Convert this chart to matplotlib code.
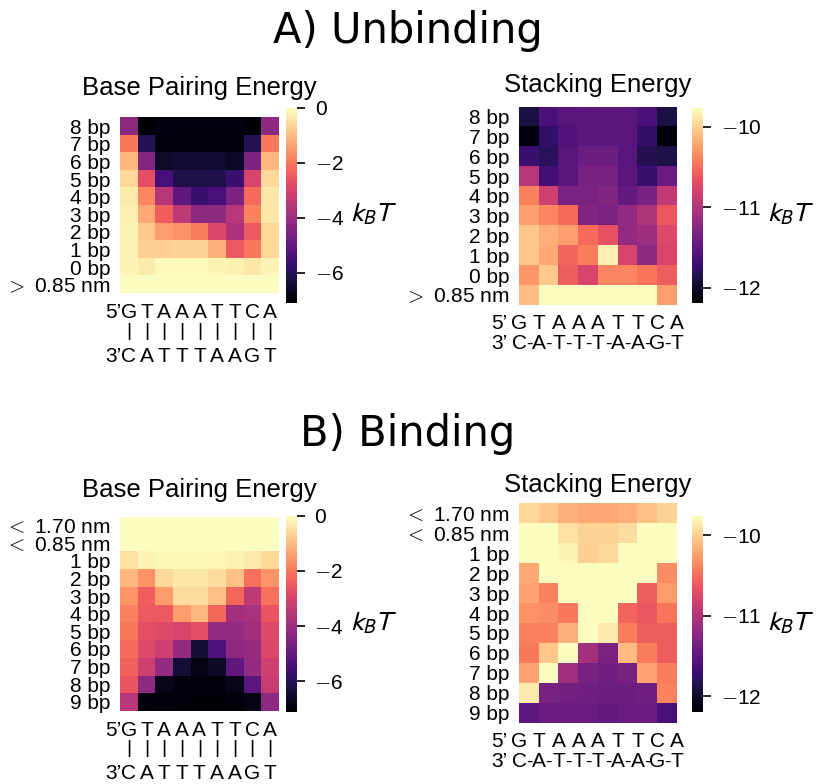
import numpy as np
import matplotlib.pyplot as plt

plt.rcParams['font.family'] = ['Liberation Sans', 'DejaVu Sans']
plt.rcParams['mathtext.fontset'] = 'stixsans'

W, H = 816, 784

top_strand = ["G", "T", "A", "A", "A", "T", "T", "C", "A"]
bottom_strand = ["C", "A", "T", "T", "T", "A", "A", "G", "T"]

unbind_rows = ["8 bp", "7 bp", "6 bp", "5 bp", "4 bp", "3 bp", "2 bp", "1 bp", "0 bp",
               r"$>$ 0.85 nm"]
bind_rows = [r"$<$ 1.70 nm", r"$<$ 0.85 nm", "1 bp", "2 bp", "3 bp", "4 bp", "5 bp",
             "6 bp", "7 bp", "8 bp", "9 bp"]

# base pairing energy (kBT), unbinding, rows top to bottom
unbind_pair = [
    [-4.26, -7.03, -6.89, -6.89, -6.89, -6.89, -6.89, -7.00, -4.26],
    [-1.99, -6.04, -6.89, -6.93, -6.93, -6.93, -6.96, -6.04, -1.99],
    [-1.07, -4.40, -6.53, -6.46, -6.46, -6.46, -6.60, -4.54, -1.07],
    [-0.57, -2.70, -5.47, -6.18, -6.18, -6.11, -5.68, -2.98, -0.57],
    [-0.28, -1.78, -3.55, -5.04, -5.68, -5.47, -4.54, -2.20, -0.36],
    [-0.21, -1.28, -2.41, -3.41, -4.26, -4.26, -3.48, -1.85, -0.36],
    [-0.14, -0.78, -1.42, -1.63, -1.92, -2.91, -3.69, -2.49, -0.57],
    [-0.14, -0.71, -0.71, -0.64, -0.64, -1.14, -2.49, -1.99, -0.57],
    [-0.14, -0.28, -0.07, -0.07, -0.07, -0.14, -0.21, -0.36, -0.14],
    [-0.02, -0.02, -0.02, -0.02, -0.02, -0.02, -0.02, -0.02, -0.02],
]

# stacking energy (kBT), unbinding
unbind_stack = [
    [-11.90, -11.61, -11.53, -11.51, -11.51, -11.51, -11.61, -11.90],
    [-12.12, -11.75, -11.56, -11.51, -11.51, -11.53, -11.73, -12.14],
    [-11.70, -11.80, -11.53, -11.41, -11.41, -11.53, -11.83, -11.87],
    [-10.97, -11.66, -11.53, -11.34, -11.34, -11.51, -11.70, -11.44],
    [-10.39, -10.83, -11.32, -11.32, -11.27, -11.46, -11.34, -10.90],
    [-10.25, -10.37, -10.51, -11.27, -11.32, -11.19, -11.02, -10.63],
    [-10.05, -10.17, -10.25, -10.51, -10.68, -11.19, -11.12, -10.73],
    [-10.05, -10.20, -10.54, -10.42, -9.83, -10.78, -11.22, -10.76],
    [-10.29, -10.03, -10.59, -10.78, -10.37, -10.37, -10.46, -10.59],
    [-10.10, -9.70, -9.70, -9.70, -9.70, -9.70, -9.70, -10.25],
]

# base pairing energy (kBT), binding
bind_pair = [
    [-0.02, -0.02, -0.02, -0.02, -0.02, -0.02, -0.02, -0.02, -0.02],
    [-0.02, -0.02, -0.02, -0.02, -0.02, -0.02, -0.02, -0.02, -0.02],
    [-0.43, -0.14, -0.10, -0.10, -0.10, -0.12, -0.18, -0.30, -0.57],
    [-1.07, -1.63, -0.57, -0.36, -0.36, -0.50, -0.92, -2.13, -1.56],
    [-1.56, -2.41, -1.49, -0.50, -0.50, -0.92, -2.27, -3.41, -2.13],
    [-1.85, -2.49, -2.49, -1.49, -1.07, -2.27, -3.83, -3.76, -2.56],
    [-1.99, -2.70, -2.84, -2.98, -2.70, -4.12, -4.12, -3.90, -2.84],
    [-2.20, -2.84, -3.12, -4.12, -6.39, -5.33, -4.26, -4.05, -2.91],
    [-2.34, -3.12, -4.12, -6.39, -6.82, -6.60, -5.04, -4.12, -3.12],
    [-2.56, -4.26, -6.74, -6.89, -6.96, -6.96, -6.74, -5.11, -3.27],
    [-3.48, -6.89, -6.96, -6.98, -7.00, -7.00, -6.98, -6.82, -4.26],
]

# stacking energy (kBT), binding
bind_stack = [
    [-9.95, -10.05, -10.15, -10.20, -10.20, -10.17, -10.08, -9.98],
    [-9.70, -9.70, -9.91, -9.98, -9.98, -9.93, -9.70, -9.70],
    [-9.70, -9.70, -9.81, -10.00, -9.95, -9.70, -9.70, -9.70],
    [-10.20, -9.70, -9.70, -9.70, -9.70, -9.70, -9.70, -10.34],
    [-10.22, -10.39, -9.70, -9.70, -9.70, -9.70, -10.59, -10.27],
    [-10.32, -10.34, -10.44, -9.70, -9.70, -10.54, -10.63, -10.46],
    [-10.39, -10.39, -10.15, -9.70, -9.86, -10.42, -10.59, -10.59],
    [-10.44, -10.05, -9.70, -11.07, -11.32, -10.10, -10.42, -10.59],
    [-10.22, -9.70, -11.10, -11.34, -11.39, -11.34, -10.22, -10.42],
    [-9.86, -11.34, -11.36, -11.39, -11.41, -11.41, -11.39, -10.39],
    [-11.49, -11.44, -11.44, -11.44, -11.46, -11.44, -11.44, -11.63],
]

PAIR_RANGE = (-7.1, 0.0)
STACK_RANGE = (-12.19, -9.76)
PAIR_TICKS = [0, -2, -4, -6]
STACK_TICKS = [-10, -11, -12]

FS = 15

fig = plt.figure(figsize=(W / 100, H / 100), dpi=100)


def box(x0, y0, x1, y1):
    return [x0 / W, 1 - y1 / H, (x1 - x0) / W, (y1 - y0) / H]


def ftext(x, y, s, **kw):
    fig.text(x / W, 1 - y / H, s, **kw)


def tick_label(t):
    if t < 0:
        return r"$-$%d" % abs(t)
    return "%d" % t


def panel(data, rows, ax_px, cb_px, vrange, cticks, title, title_y, kind, lab_dx):
    data = np.array(data)
    ax = fig.add_axes(box(*ax_px))
    im = ax.imshow(data, cmap="magma", vmin=vrange[0], vmax=vrange[1],
                   aspect="auto", interpolation="nearest")
    ax.set_yticks(range(len(rows)))
    ax.set_yticklabels(rows)
    ax.set_xticks([])
    ax.tick_params(axis="y", length=0, pad=7.2, labelsize=FS)
    for lab in ax.get_yticklabels():
        lab.set_math_fontfamily("cm")
    for s in ax.spines.values():
        s.set_visible(False)

    cax = fig.add_axes(box(*cb_px))
    cb = fig.colorbar(im, cax=cax)
    cb.set_ticks(cticks)
    cb.set_ticklabels([tick_label(t) for t in cticks])
    cb.outline.set_visible(False)
    cax.tick_params(length=5.8, width=1.2, pad=7, labelsize=FS)
    for lab in cax.get_yticklabels():
        lab.set_math_fontfamily("cm")
    cy = (cb_px[1] + cb_px[3]) / 2
    ftext(cb_px[2] + lab_dx, cy + 9, r"$k_B T$", fontsize=20, ha="left", va="center")

    x0, y0, x1, y1 = ax_px
    ftext((x0 + x1) / 2, title_y, title, fontsize=18.5, ha="center", va="baseline")

    ncol = data.shape[1]
    cw = (x1 - x0) / ncol
    if kind == "pair":
        for i in range(ncol):
            xc = x0 + (i + 0.5) * cw
            ftext(xc, y1 + 25, top_strand[i], fontsize=FS, ha="center", va="baseline")
            ftext(xc, y1 + 38, "|", fontsize=FS - 1, ha="center", va="center")
            ftext(xc, y1 + 68, bottom_strand[i], fontsize=FS, ha="center", va="baseline")
        ftext(x0 + 1, y1 + 25, "5’", fontsize=FS, ha="right", va="baseline")
        ftext(x0 + 1, y1 + 68, "3’", fontsize=FS, ha="right", va="baseline")
    else:
        for i in range(ncol + 1):
            xb = x0 + i * cw
            ftext(xb, y1 + 24, top_strand[i], fontsize=FS, ha="center", va="baseline")
            ftext(xb, y1 + 44, bottom_strand[i], fontsize=FS, ha="center", va="baseline")
        for i in range(ncol):
            ftext(x0 + (i + 0.5) * cw, y1 + 44, "-", fontsize=FS - 1, ha="center",
                  va="baseline")
        ftext(x0 - 12, y1 + 24, "5’", fontsize=FS, ha="right", va="baseline")
        ftext(x0 - 12, y1 + 44, "3’", fontsize=FS, ha="right", va="baseline")


panel(unbind_pair, unbind_rows, (120, 117.5, 278.8, 293.5), (286, 107.7, 297, 303),
      PAIR_RANGE, PAIR_TICKS, "Base Pairing Energy", 95, "pair", 53)
panel(unbind_stack, unbind_rows, (519.3, 106.7, 677, 305), (692, 107.7, 703, 303),
      STACK_RANGE, STACK_TICKS, "Stacking Energy", 91.7, "stack", 64)
panel(bind_pair, bind_rows, (120, 516.7, 278.7, 710.7), (286, 515.7, 296.7, 711.7),
      PAIR_RANGE, PAIR_TICKS, "Base Pairing Energy", 496.7, "pair", 53)
panel(bind_stack, bind_rows, (519.3, 503.3, 677, 722.7), (692, 515.7, 703, 711.7),
      STACK_RANGE, STACK_TICKS, "Stacking Energy", 491.7, "stack", 64)

ftext(408, 43, "A) Unbinding", fontsize=30, ha="center", va="baseline",
      family="DejaVu Sans")
ftext(408, 446, "B) Binding", fontsize=30, ha="center", va="baseline",
      family="DejaVu Sans")

fig.savefig("out.png", dpi=100)
